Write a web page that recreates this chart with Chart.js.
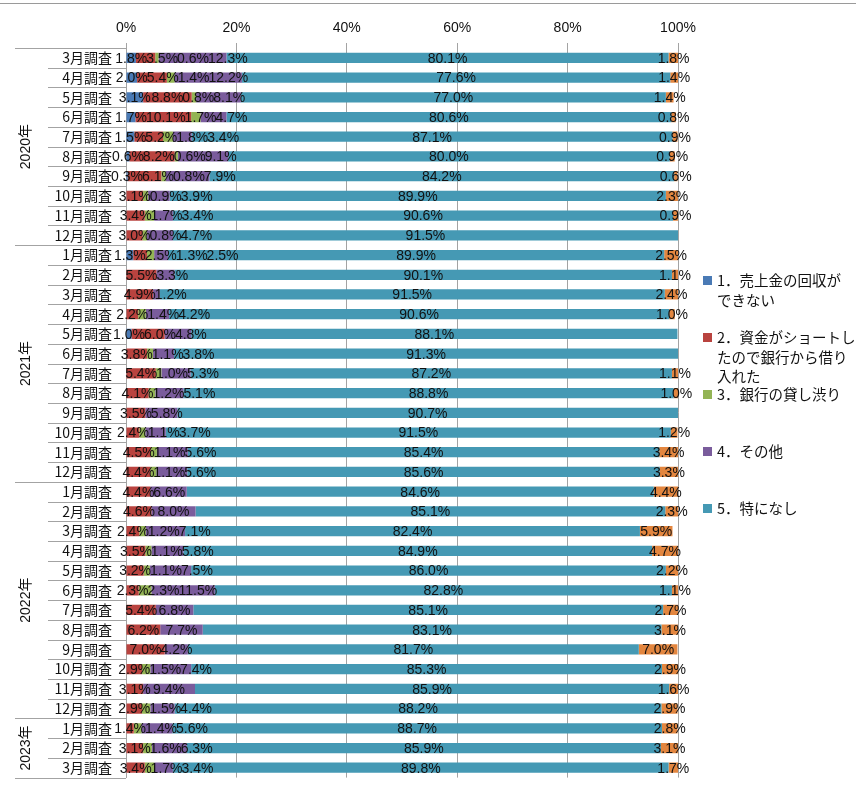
<!DOCTYPE html>
<html lang="ja">
<head>
    <meta charset="UTF-8">
    <title>資金繰り調査</title>
    <style>
        body {
            margin: 0;
            background-color: #ffffff;
            font-family: 'Liberation Sans', 'Noto Sans CJK JP', sans-serif;
        }
        .frame {
            position: relative;
            width: 856px;
            height: 800px;
        }
        .topline {
            position: absolute;
            left: 0;
            top: 3px;
            width: 856px;
            border-top: 1px solid #9a9a9a;
        }
        #legend {
            position: absolute;
            left: 703px;
            top: 270px;
            font-family: 'Noto Sans CJK JP', sans-serif;
            font-size: 14.5px;
            color: #111;
        }
        .item {
            position: relative;
            height: 57px;
            line-height: 19.5px;
            padding-left: 14px;
            white-space: pre-line;
        }
        .item span {
            position: absolute;
            left: 0;
            top: 6px;
            width: 9px;
            height: 9px;
        }
    </style>
</head>
<body>
    <div class="frame">
        <div class="topline"></div>
        <canvas id="chart"></canvas>
        <div id="legend"></div>
    </div>
    <script src="https://cdn.jsdelivr.net/npm/chart.js"></script>
    <script>
        const categories = [
            '3月調査', '4月調査', '5月調査', '6月調査', '7月調査', '8月調査', '9月調査', '10月調査', '11月調査', '12月調査',
            '1月調査', '2月調査', '3月調査', '4月調査', '5月調査', '6月調査', '7月調査', '8月調査', '9月調査', '10月調査', '11月調査', '12月調査',
            '1月調査', '2月調査', '3月調査', '4月調査', '5月調査', '6月調査', '7月調査', '8月調査', '9月調査', '10月調査', '11月調査', '12月調査',
            '1月調査', '2月調査', '3月調査'
        ];
        const yearLabels = ['2020年', '2021年', '2022年', '2023年'];
        const yearCounts = [10, 12, 12, 3];

        const seriesNames = [
            '1．売上金の回収が\nできない',
            '2．資金がショートし\nたので銀行から借り\n入れた',
            '3．銀行の貸し渋り',
            '4．その他',
            '5．特になし',
            '無回答'
        ];

        // 2020 (3-12), 2021 (1-12), 2022 (1-12), 2023 (1-3)
        const uncollected = [
            1.8, 2.0, 3.1, 1.7, 1.5, 0.6, 0.3, 0, 0, 0,
            1.3, 0, 0, 0, 1.0, 0, 0, 0, 0, 0, 0, 0,
            0, 0, 0, 0, 0, 0, 0, 0, 0, 0, 0, 0,
            0, 0, 0
        ];
        const borrowed = [
            3.5, 5.4, 8.8, 10.1, 5.2, 8.2, 6.1, 3.1, 3.4, 3.0,
            2.5, 5.5, 4.9, 2.2, 6.0, 3.8, 5.4, 4.1, 3.5, 2.4, 4.5, 4.4,
            4.4, 4.6, 2.4, 3.5, 3.2, 2.3, 5.4, 6.2, 7.0, 2.9, 3.1, 2.9,
            1.4, 3.1, 3.4
        ];
        const creditCrunch = [
            0.6, 1.4, 0.8, 1.7, 1.8, 0.6, 0.8, 0.9, 1.7, 0.8,
            1.3, 0, 0, 1.4, 0, 1.1, 1.0, 1.2, 0, 1.1, 1.1, 1.1,
            0, 0, 1.2, 1.1, 1.1, 2.3, 0, 0, 0, 1.5, 0, 1.5,
            1.4, 1.6, 1.7
        ];
        const other = [
            12.3, 12.2, 8.1, 4.7, 3.4, 9.1, 7.9, 3.9, 3.4, 4.7,
            2.5, 3.3, 1.2, 4.2, 4.8, 3.8, 5.3, 5.1, 5.8, 3.7, 5.6, 5.6,
            6.6, 8.0, 7.1, 5.8, 7.5, 11.5, 6.8, 7.7, 4.2, 7.4, 9.4, 4.4,
            5.6, 6.3, 3.4
        ];
        const nothing = [
            80.1, 77.6, 77.0, 80.6, 87.1, 80.0, 84.2, 89.9, 90.6, 91.5,
            89.9, 90.1, 91.5, 90.6, 88.1, 91.3, 87.2, 88.8, 90.7, 91.5, 85.4, 85.6,
            84.6, 85.1, 82.4, 84.9, 86.0, 82.8, 85.1, 83.1, 81.7, 85.3, 85.9, 88.2,
            88.7, 85.9, 89.8
        ];
        const noAnswer = [
            1.8, 1.4, 1.4, 0.8, 0.9, 0.9, 0.6, 2.3, 0.9, 0,
            2.5, 1.1, 2.4, 1.0, 0, 0, 1.1, 1.0, 0, 1.2, 3.4, 3.3,
            4.4, 2.3, 5.9, 4.7, 2.2, 1.1, 2.7, 3.1, 7.0, 2.9, 1.6, 2.9,
            2.8, 3.1, 1.7
        ];
        const xTicks = [0, 20, 40, 60, 80, 100];

        const colors = ['#4a7ab5', '#b9433f', '#93b455', '#7a5c9c', '#4599b4', '#e3863f'];
        const series = [uncollected, borrowed, creditCrunch, other, nothing, noAnswer];

        const gridColor = '#a3a3a3';
        const latin = "'Liberation Sans', 'Noto Sans CJK JP', sans-serif";
        const cjk = "'Noto Sans CJK JP', sans-serif";

        // Legend (first five series only)
        const legend = document.getElementById('legend');
        seriesNames.slice(0, 5).forEach((name, i) => {
            const div = document.createElement('div');
            div.className = 'item';
            const sq = document.createElement('span');
            sq.style.background = colors[i];
            div.appendChild(sq);
            div.appendChild(document.createTextNode(name));
            legend.appendChild(div);
        });

        // value labels: centred in the segment, small ones pushed right so they don't pile up
        const valueLabels = {
            id: 'valueLabels',
            afterDatasetsDraw(chart) {
                const ctx = chart.ctx;
                ctx.save();
                ctx.font = '14px ' + latin;
                ctx.fillStyle = '#111';
                ctx.textAlign = 'left';
                ctx.textBaseline = 'middle';
                const n = chart.data.labels.length;
                const metas = chart.data.datasets.map((ds, di) => chart.getDatasetMeta(di));
                for (let i = 0; i < n; i++) {
                    let prevRight = -Infinity;
                    metas.forEach((meta, di) => {
                        const v = chart.data.datasets[di].data[i];
                        if (!v) return;
                        const p = meta.data[i].getProps(['x', 'base', 'y'], true);
                        const text = v.toFixed(1) + '%';
                        const w = ctx.measureText(text).width;
                        let left = (p.x + p.base) / 2 - w / 2;
                        if (di < 4) left = Math.max(left, prevRight - 1);
                        ctx.fillText(text, left, p.y + 1);
                        prevRight = left + w;
                    });
                }
                ctx.restore();
            }
        };

        // two-level category axis: separators and rotated year labels
        const groupAxis = {
            id: 'groupAxis',
            afterDraw(chart) {
                const ctx = chart.ctx;
                const y = chart.scales.y;
                const left = chart.chartArea.left;
                const half = (y.getPixelForValue(1) - y.getPixelForValue(0)) / 2;
                const edge = i => y.getPixelForValue(i) - half;
                ctx.save();
                ctx.strokeStyle = gridColor;
                ctx.lineWidth = 1;
                const starts = [0];
                yearCounts.forEach(c => starts.push(starts[starts.length - 1] + c));
                for (let i = 0; i <= categories.length; i++) {
                    const py = Math.round(edge(i)) + 0.5;
                    const x0 = starts.includes(i) ? 15 : 48;
                    ctx.beginPath();
                    ctx.moveTo(x0, py);
                    ctx.lineTo(left, py);
                    ctx.stroke();
                }
                ctx.fillStyle = '#111';
                ctx.font = '14px ' + latin;
                ctx.textAlign = 'center';
                ctx.textBaseline = 'middle';
                yearLabels.forEach((label, g) => {
                    const cy = (edge(starts[g]) + edge(starts[g + 1])) / 2;
                    ctx.save();
                    ctx.translate(26, cy);
                    ctx.rotate(-Math.PI / 2);
                    ctx.fillText(label, 0, 0);
                    ctx.restore();
                });
                ctx.restore();
            }
        };

        new Chart(document.getElementById('chart'), {
            type: 'bar',
            data: {
                labels: categories,
                datasets: series.map((data, i) => ({
                    label: seriesNames[i],
                    data: data,
                    backgroundColor: colors[i],
                    borderWidth: 0,
                    barPercentage: 0.52,
                    categoryPercentage: 1
                }))
            },
            options: {
                indexAxis: 'y',
                responsive: true,
                maintainAspectRatio: false,
                animation: false,
                layout: { padding: { top: 0, right: 178, bottom: 9, left: 0 } },
                plugins: {
                    legend: { display: false },
                    tooltip: { enabled: false }
                },
                scales: {
                    x: {
                        position: 'top',
                        stacked: true,
                        min: 0,
                        max: 100,
                        afterBuildTicks: s => { s.ticks = xTicks.map(v => ({ value: v })); },
                        afterFit: s => { s.height = 48; },
                        grid: { color: gridColor, tickLength: 5, drawTicks: true },
                        border: { display: false },
                        ticks: {
                            padding: 6,
                            color: '#111',
                            font: { size: 14, family: latin },
                            callback: v => v + '%'
                        }
                    },
                    y: {
                        stacked: true,
                        afterFit: s => { s.width = 126; },
                        grid: { display: false, drawTicks: false },
                        border: { display: true, color: gridColor },
                        ticks: {
                            padding: 14,
                            autoSkip: false,
                            color: '#111',
                            font: { size: 14, family: cjk }
                        }
                    }
                }
            },
            plugins: [valueLabels, groupAxis]
        });
    </script>
</body>
</html>
